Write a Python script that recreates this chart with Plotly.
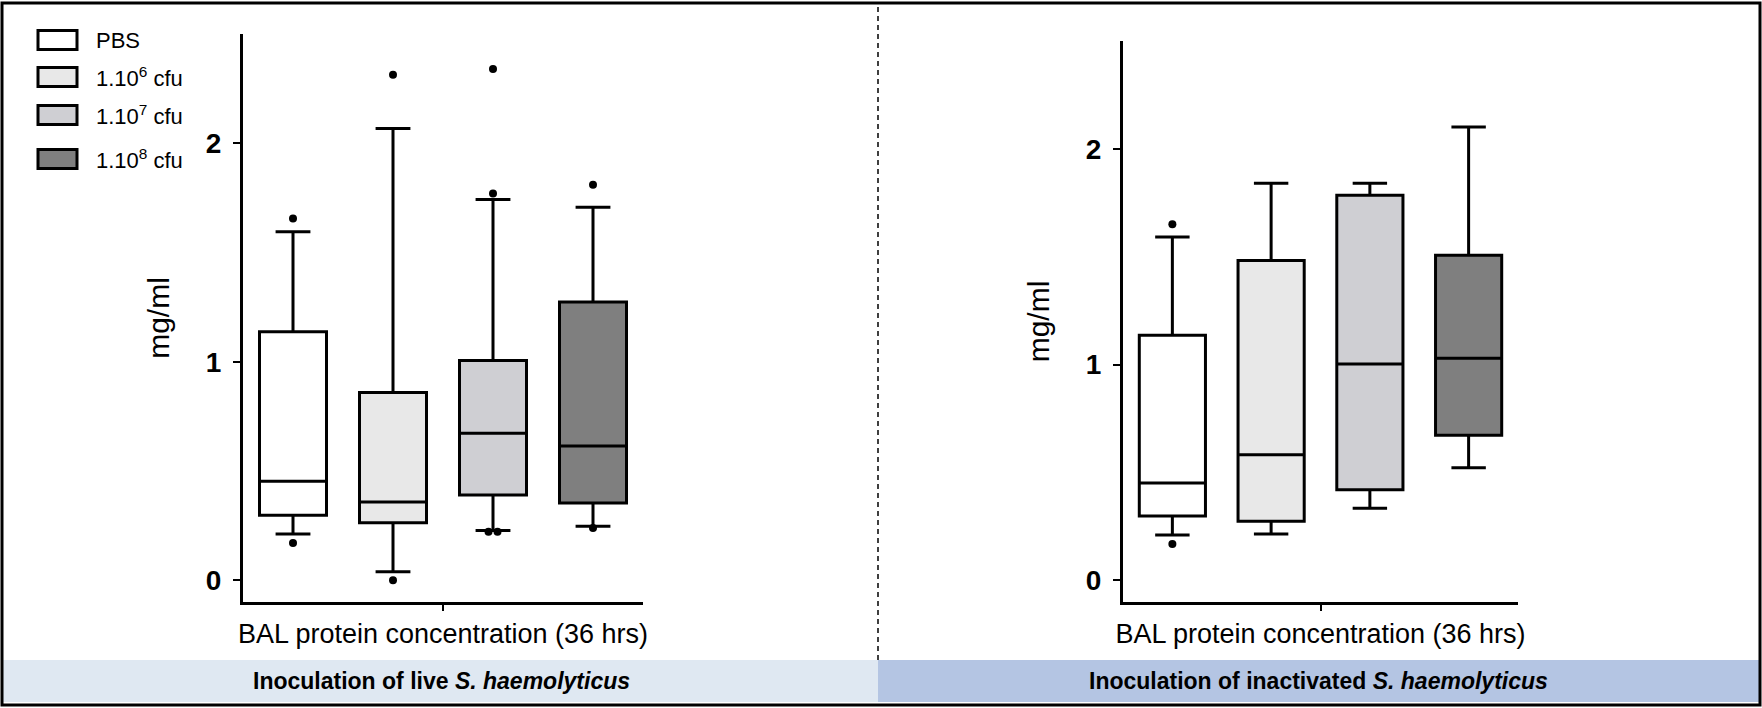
import plotly.graph_objects as go

# groups and legend labels
groups = ["PBS", "1e6", "1e7", "1e8"]
legend_labels = ["PBS", "1.10<sup>6</sup> cfu", "1.10<sup>7</sup> cfu", "1.10<sup>8</sup> cfu"]
fill_colors = ["#ffffff", "#e8e8e8", "#cfcfd3", "#7f7f7f"]

# live S. haemolyticus (mg/ml)
live_lower = [0.211, 0.039, 0.227, 0.247]
live_q1 = [0.297, 0.263, 0.390, 0.353]
live_median = [0.453, 0.358, 0.673, 0.614]
live_q3 = [1.137, 0.859, 1.006, 1.273]
live_upper = [1.595, 2.067, 1.743, 1.707]
live_outliers = [[1.655, 0.170], [2.314, 0.0], [2.340, 1.770, 0.222, 0.222], [1.810, 0.239]]

# inactivated S. haemolyticus (mg/ml)
inact_lower = [0.210, 0.215, 0.334, 0.522]
inact_q1 = [0.298, 0.274, 0.420, 0.673]
inact_median = [0.451, 0.583, 1.003, 1.030]
inact_q3 = [1.136, 1.483, 1.785, 1.507]
inact_upper = [1.592, 1.841, 1.841, 2.102]
inact_outliers = [[1.651, 0.169], [], [], []]

W, H = 1762, 708
FONT = "Liberation Sans, Arial, sans-serif"


def px(x):
    return x / W


def py(y):
    return 1 - y / H


fig = go.Figure()

panels = [
    ("x", "y", live_lower, live_q1, live_median, live_q3, live_upper, live_outliers),
    ("x2", "y2", inact_lower, inact_q1, inact_median, inact_q3, inact_upper, inact_outliers),
]

for xa, ya, lo, q1, med, q3, up, outl in panels:
    for i, g in enumerate(groups):
        fig.add_trace(go.Box(
            x=[i], q1=[q1[i]], median=[med[i]], q3=[q3[i]],
            lowerfence=[lo[i]], upperfence=[up[i]],
            fillcolor=fill_colors[i], line=dict(color="black", width=3),
            width=0.67, whiskerwidth=0.52, boxpoints=False,
            name=g, showlegend=False, hoverinfo="y",
            xaxis=xa, yaxis=ya,
        ))
        # outliers, nudge repeated values apart so both dots show
        vals = outl[i]
        xs = []
        for v in vals:
            n = vals.count(v)
            if n > 1:
                k = sum(1 for u in xs if u[1] == v)
                xs.append((i + (k - (n - 1) / 2) * 0.09, v))
            else:
                xs.append((i, v))
        if xs:
            fig.add_trace(go.Scatter(
                x=[p[0] for p in xs], y=[p[1] for p in xs], mode="markers",
                marker=dict(color="black", size=8), showlegend=False,
                hoverinfo="y", xaxis=xa, yaxis=ya,
            ))

xcommon = dict(
    range=[-0.5, 3.5], showline=True, linewidth=3, linecolor="black",
    tickvals=[1.5], ticktext=[""], ticks="outside", ticklen=6, tickwidth=2,
    tickcolor="black", showgrid=False, zeroline=False,
    title=dict(text="BAL protein concentration (36 hrs)",
               font=dict(family=FONT, size=27, color="black"), standoff=12),
)
ycommon = dict(
    range=[-0.1, 2.5], showline=True, linewidth=3, linecolor="black",
    tickvals=[0, 1, 2], ticks="outside", ticklen=7, tickwidth=2,
    tickcolor="black", showgrid=False, zeroline=False,
    tickfont=dict(family=FONT, size=28, color="black", weight="bold"),
    ticklabelstandoff=6,
    title=dict(text="mg/ml", font=dict(family=FONT, size=30, color="black"), standoff=28),
)

fig.update_layout(
    width=W, height=H,
    margin=dict(l=0, r=0, t=0, b=0),
    paper_bgcolor="white", plot_bgcolor="white",
    font=dict(family=FONT, color="black"),
    xaxis=dict(domain=[px(243), px(643)], anchor="y", **xcommon),
    yaxis=dict(domain=[py(602), py(34)], anchor="x", **ycommon),
    xaxis2=dict(domain=[px(1123), px(1518)], anchor="y2", **xcommon),
    yaxis2=dict(domain=[py(602), py(41)], anchor="x2", **ycommon),
    showlegend=False,
)

shapes = [
    # bottom banners
    dict(type="rect", xref="paper", yref="paper", x0=px(3), x1=px(878),
         y0=py(702), y1=py(660), fillcolor="#dfe8f2", line=dict(width=0), layer="below"),
    dict(type="rect", xref="paper", yref="paper", x0=px(878), x1=px(1759),
         y0=py(702), y1=py(660), fillcolor="#b4c5e3", line=dict(width=0), layer="below"),
    # dashed divider
    dict(type="line", xref="paper", yref="paper", x0=px(878), x1=px(878),
         y0=py(660), y1=py(4), line=dict(color="black", width=1.5, dash="5px,4px")),
    # outer frame
    dict(type="rect", xref="paper", yref="paper", x0=px(2), x1=px(1760),
         y0=py(705), y1=py(3), line=dict(color="black", width=3)),
]

annotations = [
    dict(text="<b>Inoculation of live <i>S. haemolyticus</i></b>", x=px(441), y=py(681),
         xref="paper", yref="paper", xanchor="center", yanchor="middle", showarrow=False,
         font=dict(family=FONT, size=23, color="black")),
    dict(text="<b>Inoculation of inactivated <i>S. haemolyticus</i></b>", x=px(1318), y=py(681),
         xref="paper", yref="paper", xanchor="center", yanchor="middle", showarrow=False,
         font=dict(family=FONT, size=23, color="black")),
]

# custom legend (rectangle swatches)
legend_rows = [40, 77, 115, 159]
for lab, col, yc in zip(legend_labels, fill_colors, legend_rows):
    shapes.append(dict(type="rect", xref="paper", yref="paper",
                       x0=px(38), x1=px(77), y0=py(yc + 9.5), y1=py(yc - 9.5),
                       fillcolor=col, line=dict(color="black", width=3)))
    annotations.append(dict(text=lab, x=px(94), y=py(yc), xref="paper", yref="paper",
                            xanchor="left", yanchor="middle", showarrow=False,
                            font=dict(family=FONT, size=22, color="black")))

fig.update_layout(shapes=shapes, annotations=annotations)

fig.write_html("out.html", config={"displayModeBar": False},
               post_script="document.body.style.margin='0';")
